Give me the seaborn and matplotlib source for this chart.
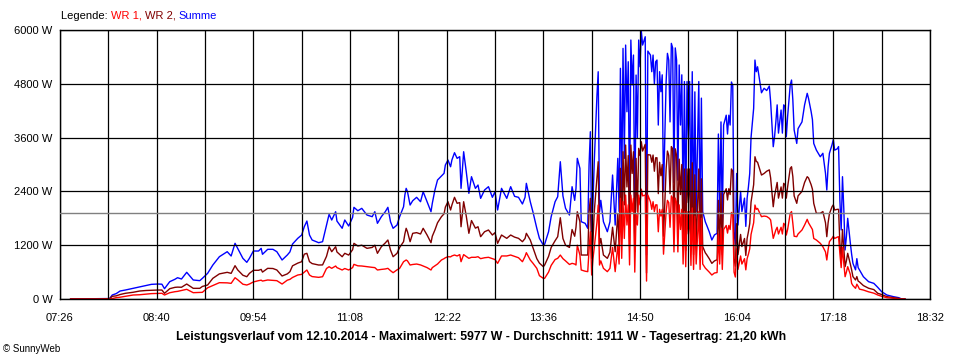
import matplotlib
matplotlib.use("Agg")
import matplotlib.pyplot as plt
import pandas as pd
import seaborn as sns

# time in minutes after midnight (12.10.2014)
minute = [
    454, 465, 477, 484, 486, 489, 492, 496, 502, 507, 512, 516, 521, 524, 526, 530,
    534, 536, 539, 543, 548, 553, 555, 559, 563, 568, 574, 577, 580, 582, 586, 589,
    591, 594, 598, 600, 601, 605, 609, 612, 616, 620, 622, 624, 628, 631, 633, 635,
    637, 639, 644, 647, 650, 652, 654, 657, 658, 662, 664, 667, 670, 671, 674, 677,
    681, 685, 687, 689, 692, 695, 697, 699, 701, 704, 706, 709, 710, 711, 712, 714,
    716, 719, 722, 724, 727, 730, 731, 733, 735, 738, 740, 741, 743, 745, 746, 748,
    750, 752, 753, 755, 757, 759, 761, 764, 766, 768, 771, 774, 777, 779, 781, 784,
    788, 791, 794, 797, 800, 802, 803, 806, 808, 811, 813, 816, 817, 820, 822, 825,
    827, 829, 831, 833, 836, 838, 840, 841, 842, 844, 845, 848, 850, 851, 852, 853,
    854, 855, 857, 858, 859, 860, 862, 865, 867, 869, 871, 873, 874, 875, 876, 877,
    878, 879, 880, 881, 882, 883, 884, 885, 886, 887, 888, 889, 890, 891, 892, 894,
    895, 896, 898, 899, 900, 901, 902, 903, 904, 905, 906, 907, 908, 910, 911, 912,
    913, 914, 915, 916, 917, 918, 919, 920, 921, 922, 923, 924, 925, 926, 927, 928,
    929, 930, 931, 932, 933, 935, 936, 937, 938, 940, 941, 943, 945, 947, 949, 950,
    951, 952, 953, 954, 956, 957, 958, 959, 960, 961, 962, 963, 964, 965, 967, 968,
    970, 971, 972, 973, 974, 975, 977, 978, 979, 980, 983, 985, 987, 989, 990, 992,
    993, 994, 995, 996, 998, 999, 1000, 1001, 1002, 1003, 1005, 1006, 1007, 1008, 1010, 1011,
    1014, 1016, 1018, 1019, 1021, 1022, 1023, 1025, 1028, 1030, 1032, 1033, 1034, 1035, 1037, 1038,
    1039, 1041, 1042, 1043, 1044, 1045, 1046, 1047, 1048, 1049, 1051, 1052, 1053, 1055, 1056, 1057,
    1058, 1061, 1065, 1069, 1072, 1075, 1079, 1084, 1088, 1090, 1093,
]

wr1 = [
    0, 0, 0, 0, 10, 30, 40, 60, 89, 95, 110, 120, 125, 127, 89, 140,
    163, 170, 190, 216, 141, 145, 149, 250, 300, 364, 360, 349, 475, 430, 330, 312,
    334, 380, 409, 420, 400, 424, 415, 409, 334, 420, 438, 480, 535, 550, 600, 647,
    535, 500, 483, 497, 680, 720, 684, 736, 700, 647, 680, 647, 700, 773, 740, 736,
    720, 706, 700, 647, 660, 670, 684, 632, 587, 650, 684, 832, 850, 870, 850, 758,
    770, 780, 760, 735, 700, 647, 700, 740, 780, 870, 900, 920, 943, 940, 960, 981,
    960, 990, 832, 990, 950, 907, 930, 930, 943, 900, 920, 930, 900, 880, 795, 960,
    960, 981, 950, 920, 832, 950, 1033, 870, 800, 684, 520, 461, 461, 600, 750, 880,
    907, 980, 900, 850, 770, 795, 780, 758, 1200, 981, 647, 620, 610, 1100, 1500, 535,
    900, 1150, 1700, 2096, 758, 850, 684, 610, 684, 1150, 610, 1200, 780, 2245, 907, 2170,
    1350, 2319, 1650, 2100, 760, 2319, 1947, 2245, 600, 1900, 1650, 2319, 2100, 2450, 2300, 2319,
    400, 2319, 2170, 2000, 2170, 1950, 2100, 2100, 1500, 2000, 1850, 2000, 1000, 1950, 2200, 2150,
    1600, 2300, 2250, 1050, 2250, 2150, 1050, 2100, 1550, 2000, 780, 1950, 720, 1950, 1450, 1950,
    750, 2030, 660, 1850, 780, 1950, 660, 1800, 780, 690, 660, 600, 535, 580, 590, 1450,
    780, 1580, 660, 1550, 1640, 1470, 1640, 1550, 1930, 1900, 600, 490, 1120, 660, 960, 780,
    900, 650, 900, 1000, 1120, 1440, 1700, 2096, 2000, 2020, 1836, 1850, 1840, 1800, 1762, 1353,
    1450, 1539, 1600, 1450, 1600, 1450, 1688, 1650, 1427, 1550, 1911, 1950, 1688, 1400, 1390, 1450,
    1539, 1650, 1777, 1700, 1600, 1550, 1350, 1316, 1242, 1166, 1050, 870, 1100, 1280, 1353, 1400,
    1350, 1380, 1390, 1019, 700, 1150, 800, 497, 600, 721, 550, 349, 300, 238, 330, 280,
    220, 200, 160, 130, 89, 60, 30, 15, 5, 0, 0,
]

wr2 = [
    0, 0, 0, 10, 60, 70, 100, 127, 150, 178, 190, 195, 200, 200, 127, 230,
    260, 265, 262, 334, 238, 238, 280, 312, 461, 560, 595, 572, 743, 650, 530, 497,
    572, 640, 640, 660, 600, 684, 680, 647, 513, 560, 609, 740, 800, 832, 1000, 1019,
    832, 790, 758, 760, 950, 1166, 1055, 1166, 1050, 943, 1019, 980, 1100, 1242, 1182, 1200,
    1130, 1150, 1200, 1019, 1166, 1250, 1316, 1093, 943, 1019, 1150, 1278, 1450, 1577, 1501, 1278,
    1465, 1480, 1450, 1577, 1427, 1256, 1400, 1539, 1700, 1836, 1900, 2050, 2170, 1985, 2096, 2268,
    2134, 2150, 1612, 2170, 1850, 1465, 1750, 1580, 1612, 1390, 1500, 1539, 1427, 1480, 1242, 1427,
    1353, 1427, 1380, 1353, 1278, 1350, 1465, 1316, 1150, 900, 800, 721, 758, 950, 1150, 1300,
    1390, 1813, 1350, 1200, 1150, 1550, 1400, 1600, 1947, 1724, 981, 981, 981, 1947, 2245, 907,
    1300, 1947, 2700, 3062, 1200, 1350, 981, 907, 1040, 1600, 1055, 1900, 1200, 2914, 1353, 3285,
    2100, 3434, 2500, 3200, 1200, 3434, 2800, 3285, 1055, 3137, 1947, 3360, 3200, 3508, 3300, 3450,
    580, 3220, 3211, 3050, 3211, 2850, 3150, 3150, 2350, 3050, 2750, 3000, 1400, 2900, 3300, 3200,
    2350, 3400, 3350, 1550, 3350, 3200, 1600, 3120, 2330, 3000, 1170, 2900, 1080, 2900, 2150, 2900,
    1120, 3040, 990, 2770, 1170, 2900, 990, 2680, 1170, 1030, 990, 900, 795, 850, 875, 2200,
    1170, 2370, 990, 2330, 2460, 2210, 2460, 2330, 2900, 2850, 900, 730, 1680, 990, 1440, 1170,
    1350, 970, 1350, 1500, 1680, 2160, 2550, 3173, 3070, 3050, 2765, 2800, 2850, 2880, 2700, 2058,
    2300, 2450, 2600, 2250, 2500, 2250, 2580, 2550, 2250, 2500, 2914, 2950, 2730, 2300, 2134, 2300,
    2400, 2600, 2728, 2700, 2550, 2450, 2134, 1911, 1911, 1950, 1700, 1390, 1700, 1900, 2058, 2100,
    1985, 2000, 2000, 1242, 900, 1550, 1150, 721, 850, 1019, 780, 650, 500, 424, 500, 400,
    380, 300, 240, 210, 127, 100, 52, 30, 15, 0, 0,
]

summe = [
    0, 5, 8, 10, 89, 120, 178, 200, 238, 270, 300, 327, 334, 330, 230, 386,
    440, 475, 446, 595, 424, 409, 461, 572, 758, 943, 1055, 959, 1242, 1130, 907, 818,
    907, 1070, 1070, 1130, 997, 1108, 1108, 1055, 870, 981, 1050, 1226, 1353, 1427, 1612, 1739,
    1427, 1316, 1256, 1278, 1640, 1889, 1762, 1947, 1739, 1577, 1762, 1628, 1822, 2045, 1969, 2022,
    1873, 1836, 1947, 1688, 1836, 1947, 2045, 1724, 1577, 1650, 1836, 2058, 2319, 2468, 2394, 2096,
    2192, 2268, 2170, 2393, 2170, 1947, 2134, 2431, 2654, 2743, 2803, 2988, 3100, 2950, 3100, 3263,
    3137, 3175, 2468, 3285, 2840, 2357, 2728, 2468, 2542, 2245, 2431, 2505, 2268, 2394, 1985, 2468,
    2245, 2505, 2290, 2268, 2119, 2268, 2580, 2170, 1947, 1577, 1353, 1204, 1220, 1501, 1836, 2170,
    2281, 3062, 2300, 2022, 1873, 2505, 2200, 2468, 3137, 2914, 1724, 1688, 1577, 2988, 3731, 1501,
    2170, 3062, 4511, 5069, 1947, 2200, 1724, 1501, 1724, 2765, 1650, 3137, 1950, 5145, 2280, 5590,
    3137, 5664, 4177, 5292, 1950, 5776, 4772, 5441, 1650, 4995, 3600, 5776, 5180, 5977, 5664, 5850,
    981, 5530, 5441, 5070, 5441, 4800, 5292, 5330, 3880, 5070, 4623, 5000, 2393, 4850, 5479, 5330,
    3950, 5702, 5600, 2600, 5600, 5330, 2650, 5220, 3880, 5000, 1950, 4850, 1800, 4850, 3600, 4850,
    1870, 5070, 1650, 4620, 1950, 4850, 1650, 4480, 1950, 1720, 1650, 1500, 1316, 1430, 1465, 3680,
    1950, 3950, 1650, 3880, 4100, 3680, 4100, 3880, 4840, 4760, 1500, 1220, 2800, 1650, 2400, 1950,
    2250, 1620, 2250, 2500, 2800, 3600, 4250, 5330, 5070, 5180, 4600, 4700, 4650, 4750, 4400, 3397,
    3620, 3950, 4330, 3700, 4215, 3700, 4330, 4300, 3620, 4070, 4772, 4884, 4440, 3770, 3470, 3800,
    3950, 4330, 4587, 4475, 4180, 4000, 3470, 3322, 3173, 3250, 2803, 2431, 2950, 3250, 3440, 3560,
    3320, 3350, 3400, 2208, 1540, 2728, 2020, 1093, 1390, 1800, 1250, 1000, 796, 650, 900, 700,
    650, 497, 386, 349, 260, 163, 89, 52, 30, 5, 0,
]

x_major = [446, 520, 594, 668, 742, 816, 890, 964, 1038, 1112]
x_labels = ["07:26", "08:40", "09:54", "11:08", "12:22", "13:36", "14:50", "16:04", "17:18", "18:32"]
x_minor = [483, 557, 631, 705, 779, 853, 927, 1001, 1075]
y_major = [0, 1200, 2400, 3600, 4800, 6000]
y_labels = ["0 W", "1200 W", "2400 W", "3600 W", "4800 W", "6000 W"]
average_w = 1911
title = ("Leistungsverlauf vom 12.10.2014 - Maximalwert: 5977 W - "
         "Durchschnitt: 1911 W - Tagesertrag: 21,20 kWh")
legend_parts = [("Legende: ", "#000000"), ("WR 1, ", "#FF0000"),
                ("WR 2, ", "#800000"), ("Summe", "#0000FF")]

sns.set_style("white")
plt.rcParams["font.family"] = ["Liberation Sans", "DejaVu Sans"]

W, H = 960, 360
fig = plt.figure(figsize=(W / 100, H / 100), dpi=100)
ax = fig.add_axes([60 / W, 1 - 299 / H, 870 / W, 269 / H])

df = pd.DataFrame({"Zeit": minute, "WR 1": wr1, "WR 2": wr2, "Summe": summe})
for col, colr in [("Summe", "#0000FF"), ("WR 2", "#800000"), ("WR 1", "#FF0000")]:
    sns.lineplot(data=df, x="Zeit", y=col, color=colr, lw=1.0, ax=ax,
                 estimator=None, zorder=2)

ax.axhline(average_w, color="#808080", lw=1.0, zorder=2.7)

ax.set_xlim(x_major[0], x_major[-1])
ax.set_ylim(0, 6000)
ax.set_xticks(x_major)
ax.set_xticklabels(x_labels)
ax.set_xticks(x_minor, minor=True)
ax.set_yticks(y_major)
ax.set_yticklabels(y_labels)
ax.set_xlabel("")
ax.set_ylabel("")
ax.set_axisbelow(False)
ax.grid(axis="x", which="both", color="black", lw=0.9)
ax.grid(axis="y", which="major", color="black", lw=0.9)
ax.tick_params(axis="both", which="both", direction="out", length=4, width=1,
               color="black", labelsize=8, labelcolor="black")
ax.tick_params(axis="x", which="both", pad=6)
ax.tick_params(axis="y", pad=1.5)
for s in ax.spines.values():
    s.set_visible(True)
    s.set_color("black")
    s.set_linewidth(1.0)

fig.text(481 / W, 1 - 337 / H, title, ha="center", va="center",
         fontsize=8.8, fontweight="bold", color="black")
fig.text(3 / W, 1 - 349 / H, "\u00a9 SunnyWeb", ha="left", va="center",
         fontsize=7, color="black")

fig.canvas.draw()
rend = fig.canvas.get_renderer()
xpos = 61
for txt, colr in legend_parts:
    t = fig.text(xpos / W, 1 - 16 / H, txt, ha="left", va="center",
                 fontsize=8, color=colr)
    xpos += t.get_window_extent(rend).width

fig.savefig("out.png", dpi=100, facecolor="white")
